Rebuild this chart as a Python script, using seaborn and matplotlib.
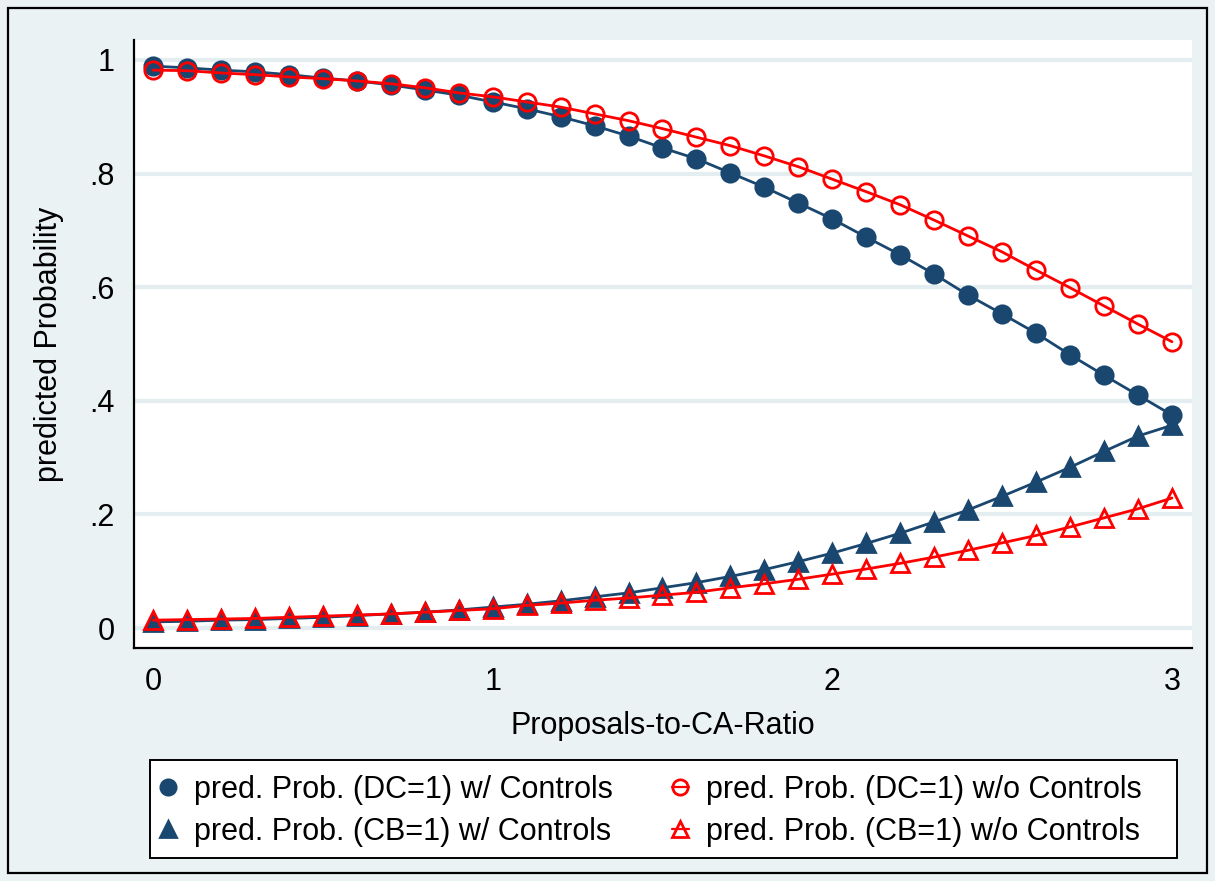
import numpy as np
import pandas as pd
import seaborn as sns
import matplotlib
matplotlib.use("Agg")
import matplotlib.pyplot as plt
from matplotlib.lines import Line2D
from matplotlib.patches import Rectangle

# Proposals-to-CA ratio grid
ratio = [round(0.1 * i, 1) for i in range(31)]

# Predicted probability of DC=1, with controls
dc_with = [0.989, 0.986, 0.982, 0.979, 0.974, 0.968, 0.963, 0.956, 0.947, 0.938,
           0.926, 0.914, 0.900, 0.884, 0.866, 0.845, 0.826, 0.801, 0.776, 0.748,
           0.720, 0.688, 0.657, 0.623, 0.586, 0.553, 0.519, 0.481, 0.445, 0.410,
           0.375]
# Predicted probability of DC=1, without controls
dc_without = [0.982, 0.981, 0.977, 0.974, 0.970, 0.967, 0.963, 0.958, 0.951, 0.942,
              0.935, 0.926, 0.917, 0.905, 0.893, 0.879, 0.864, 0.849, 0.831, 0.812,
              0.790, 0.768, 0.745, 0.718, 0.690, 0.662, 0.630, 0.599, 0.567, 0.535,
              0.504]
# Predicted probability of CB=1, with controls
cb_with = [0.011, 0.012, 0.014, 0.015, 0.017, 0.019, 0.022, 0.025, 0.028, 0.032,
           0.037, 0.042, 0.048, 0.055, 0.062, 0.071, 0.080, 0.091, 0.103, 0.117,
           0.132, 0.149, 0.167, 0.187, 0.208, 0.232, 0.257, 0.283, 0.311, 0.338,
           0.357]
# Predicted probability of CB=1, without controls
cb_without = [0.014, 0.015, 0.016, 0.017, 0.019, 0.021, 0.023, 0.025, 0.028, 0.031,
              0.034, 0.040, 0.044, 0.049, 0.053, 0.058, 0.063, 0.071, 0.078, 0.086,
              0.095, 0.104, 0.114, 0.125, 0.137, 0.150, 0.163, 0.178, 0.194, 0.210,
              0.229]

series_labels = ["pred. Prob. (DC=1) w/ Controls",
                 "pred. Prob. (DC=1) w/o Controls",
                 "pred. Prob. (CB=1) w/ Controls",
                 "pred. Prob. (CB=1) w/o Controls"]
y_ticks = [0, 0.2, 0.4, 0.6, 0.8, 1.0]
y_tick_labels = ["0", ".2", ".4", ".6", ".8", "1"]
x_ticks = [0, 1, 2, 3]
x_tick_labels = ["0", "1", "2", "3"]

NAVY = "#1a476f"
RED = "#ff0000"
BG = "#eaf2f3"
FS = 22
W, H = 1215, 881

sns.set_theme(style="white")
plt.rcParams["font.family"] = ["Liberation Sans", "DejaVu Sans"]

fig = plt.figure(figsize=(12.15, 8.81), dpi=100, facecolor=BG)
ax = fig.add_axes([134 / W, 1 - 648 / H, (1192 - 134) / W, (648 - 40) / H])
ax.set_facecolor("white")

styles = [
    (dc_with, NAVY, "o", NAVY),
    (dc_without, RED, "o", "none"),
    (cb_with, NAVY, "^", NAVY),
    (cb_without, RED, "^", "none"),
]
for (vals, col, mk, fc), lab in zip(styles, series_labels):
    df = pd.DataFrame({"ratio": ratio, "prob": vals})
    sns.lineplot(data=df, x="ratio", y="prob", ax=ax, color=col, linewidth=2.0,
                 marker=mk, markersize=12.5, markerfacecolor=fc,
                 markeredgecolor=col, markeredgewidth=2.0, legend=False)

ax.set_xlim(-0.056, 3.059)
ax.set_ylim(-0.035, 1.035)
ax.set_yticks(y_ticks)
ax.set_yticklabels(y_tick_labels)
ax.set_xticks(x_ticks)
ax.set_xticklabels(x_tick_labels)
ax.yaxis.grid(True, color="#e4edef", linewidth=3.0)
ax.set_axisbelow(True)
for s in ["top", "right"]:
    ax.spines[s].set_visible(False)
for s in ["left", "bottom"]:
    ax.spines[s].set_color("black")
    ax.spines[s].set_linewidth(1.6)
ax.tick_params(axis="both", direction="out", length=8, width=1.6, color="black",
               labelsize=FS, pad=6, labelcolor="black")
ax.set_xlabel("Proposals-to-CA-Ratio", fontsize=FS, color="black", labelpad=10)
ax.set_ylabel("predicted Probability", fontsize=FS, color="black", labelpad=18)

# Legend box (white panel with black border)
fig.patches.append(Rectangle((150 / W, 1 - 858 / H), (1177 - 150) / W, 98 / H,
                             transform=fig.transFigure, facecolor="white",
                             edgecolor="black", linewidth=1.4, zorder=1))

handles = []
for vals, col, mk, fc in styles:
    ls = "-" if fc == "none" else "None"
    handles.append(Line2D([], [], color=col, linestyle=ls, linewidth=1.6, marker=mk,
                          markersize=11, markerfacecolor=fc, markeredgecolor=col,
                          markeredgewidth=2.0))
order = [0, 2, 1, 3]
leg = fig.legend([handles[i] for i in order], [series_labels[i] for i in order],
                 ncol=2, loc="center left",
                 bbox_to_anchor=(160 / W, 1 - 811 / H),
                 fontsize=FS, frameon=False,
                 handlelength=0.55, handletextpad=0.55, borderpad=0.0,
                 labelspacing=0.4, columnspacing=1.95, borderaxespad=0)
leg.set_zorder(2)
for t in leg.get_texts():
    t.set_color("black")

fig.patches.append(Rectangle((8 / W, 1 - 873 / H), 1199 / W, 865 / H,
                             transform=fig.transFigure, fill=False,
                             edgecolor="black", linewidth=1.6))

fig.savefig("out.png", dpi=100, facecolor=BG)
